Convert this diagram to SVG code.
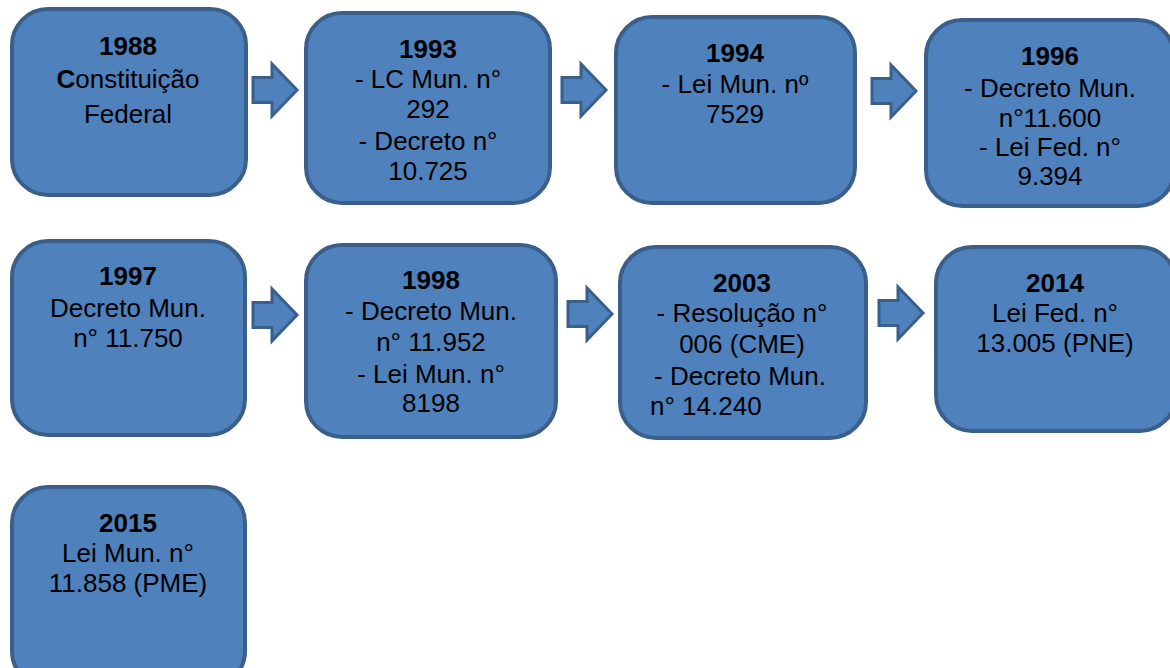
<svg xmlns="http://www.w3.org/2000/svg" width="1170" height="668" viewBox="0 0 1170 668">
  <defs>
    <style>
      .box { fill: #4F81BD; stroke: #3A5F8B; stroke-width: 4; }
      .arr { fill: #4F81BD; stroke: #3A5F8B; stroke-width: 3; stroke-linejoin: miter; }
      text { font-family: "Liberation Sans", Arial, sans-serif; font-size: 26px; fill: #000; text-anchor: middle; }
      .b { font-weight: bold; }
      .l { text-anchor: start; }
    </style>
    <path id="arrow" d="M0,-12.5 H19 V-26 L44,0 L19,26 V12.5 H0 Z"/>
  </defs>
  <rect width="1170" height="668" fill="#ffffff"/>

  <g id="connectors">
    <use href="#arrow" class="arr" transform="translate(253,90)"/>
    <use href="#arrow" class="arr" transform="translate(562,90)"/>
    <use href="#arrow" class="arr" transform="translate(872,91)"/>
    <use href="#arrow" class="arr" transform="translate(253,315)"/>
    <use href="#arrow" class="arr" transform="translate(568,314)"/>
    <use href="#arrow" class="arr" transform="translate(879,313)"/>
  </g>

  <g id="n1988">
    <rect class="box" x="12" y="9" width="234" height="186" rx="36"/>
    <text x="128" y="55" class="b">1988</text>
    <text x="128" y="88"><tspan class="b">C</tspan>onstituição</text>
    <text x="128" y="123">Federal</text>
  </g>

  <g id="n1993">
    <rect class="box" x="306" y="13" width="244" height="190" rx="36"/>
    <text x="428" y="58" class="b">1993</text>
    <text x="428" y="88">- LC Mun. n°</text>
    <text x="428" y="118">292</text>
    <text x="428" y="150">- Decreto n°</text>
    <text x="428" y="180">10.725</text>
  </g>

  <g id="n1994">
    <rect class="box" x="616" y="17" width="239" height="186" rx="36"/>
    <text x="735" y="62" class="b">1994</text>
    <text x="735" y="93">- Lei Mun. nº</text>
    <text x="735" y="123">7529</text>
  </g>

  <g id="n1996">
    <rect class="box" x="926" y="20" width="248" height="186" rx="36"/>
    <text x="1050" y="65" class="b">1996</text>
    <text x="1050" y="97">- Decreto Mun.</text>
    <text x="1050" y="127">n°11.600</text>
    <text x="1050" y="156">- Lei Fed. n°</text>
    <text x="1050" y="185">9.394</text>
  </g>

  <g id="n1997">
    <rect class="box" x="12" y="241" width="233" height="194" rx="36"/>
    <text x="128" y="285" class="b">1997</text>
    <text x="128" y="317">Decreto Mun.</text>
    <text x="128" y="347">n° 11.750</text>
  </g>

  <g id="n1998">
    <rect class="box" x="306" y="245" width="250" height="192" rx="36"/>
    <text x="431" y="289" class="b">1998</text>
    <text x="431" y="320">- Decreto Mun.</text>
    <text x="431" y="351">n° 11.952</text>
    <text x="431" y="383">- Lei Mun. n°</text>
    <text x="431" y="412">8198</text>
  </g>

  <g id="n2003">
    <rect class="box" x="620" y="247" width="246" height="191" rx="36"/>
    <text x="742" y="292" class="b">2003</text>
    <text x="742" y="322">- Resolução n°</text>
    <text x="742" y="353">006 (CME)</text>
    <text x="740" y="385">- Decreto Mun.</text>
    <text x="650" y="415" class="l">n° 14.240</text>
  </g>

  <g id="n2014">
    <rect class="box" x="936" y="247" width="240" height="184" rx="36"/>
    <text x="1055" y="292" class="b">2014</text>
    <text x="1055" y="322">Lei Fed. n°</text>
    <text x="1055" y="352">13.005 (PNE)</text>
  </g>

  <g id="n2015">
    <rect class="box" x="12" y="487" width="233" height="200" rx="36"/>
    <text x="128" y="532" class="b">2015</text>
    <text x="128" y="562">Lei Mun. n°</text>
    <text x="128" y="592">11.858 (PME)</text>
  </g>
</svg>
